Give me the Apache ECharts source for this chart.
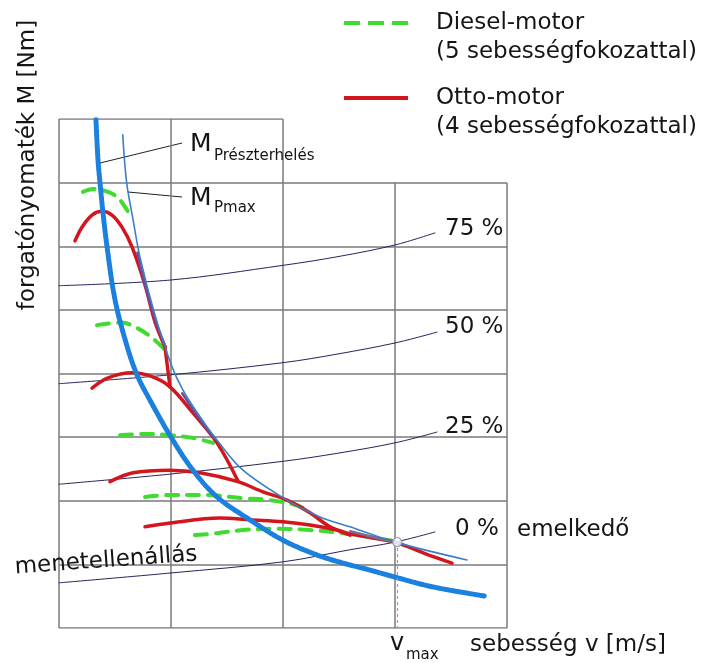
<!DOCTYPE html>
<html>
<head>
<meta charset="utf-8">
<script src="https://cdn.jsdelivr.net/npm/echarts@6/dist/echarts.min.js"></script>
<style>html,body{margin:0;padding:0;background:#fff;}#c{width:709px;height:663px;}</style>
</head>
<body>
<div id="c"></div>
<script>
// Grid (schematic, unitless): x 0..4 columns, y 0..8 rows
const gridColsX = [0, 1, 2, 3, 4];
const gridColsTop = [8, 8, 8, 7, 7];
const gridRowsY = [0, 1, 2, 3, 4, 5, 6, 7, 8];
const gridRowsRight = [4, 4, 4, 4, 4, 4, 4, 4, 2];

// Torque hyperbolas
const mPartial = [[0.33,7.99],[0.348,7.36],[0.366,7.0],[0.39,6.57],[0.429,5.99],[0.5,5.16],[0.604,4.45],[0.696,3.98],[0.8125,3.58],[1.0,3.0],[1.196,2.48],[1.411,2.06],[1.705,1.70],[2.0,1.38],[2.30,1.15],[2.536,1.02],[2.777,0.91],[3.0,0.80],[3.339,0.645],[3.80,0.503]];
const mPmax = [[0.569,7.75],[0.604,7.0],[0.661,6.42],[0.723,5.83],[0.857,4.92],[1.006,4.12],[1.107,3.74],[1.259,3.32],[1.408,2.96],[1.643,2.48],[2.036,2.01],[2.33,1.745],[2.598,1.59],[3.0,1.35],[3.643,1.07]];

// Driving resistance (slope) curves
const res75 = [[0,5.38],[1.0,5.47],[2.0,5.70],[2.5,5.84],[3.0,6.02],[3.357,6.21]];
const res50 = [[0,3.84],[1.0,3.98],[2.0,4.17],[2.5,4.31],[3.0,4.48],[3.375,4.65]];
const res25 = [[0,2.26],[1.0,2.42],[2.0,2.62],[2.5,2.75],[3.0,2.91],[3.375,3.08]];
const res0 = [[0,0.71],[1.0,0.865],[2.0,1.04],[2.598,1.23],[3.0,1.35],[3.357,1.51]];

// Otto engine, 4 gears
const otto1 = [[0.143,6.085],[0.205,6.30],[0.295,6.49],[0.384,6.55],[0.473,6.49],[0.5625,6.30],[0.652,5.99],[0.768,5.39],[0.857,4.81],[0.946,4.42]];
const otto1Drop = [[0.946,4.42],[0.991,3.79]];
const otto2 = [[0.295,3.77],[0.4375,3.93],[0.652,4.01],[0.830,3.95],[0.991,3.79],[1.196,3.38],[1.411,2.91],[1.598,2.31]];
const otto3 = [[0.455,2.30],[0.661,2.44],[0.991,2.48],[1.259,2.44],[1.598,2.30],[1.821,2.14],[2.036,2.01],[2.241,1.81],[2.42,1.59],[2.598,1.46]];
const otto4 = [[0.768,1.59],[0.991,1.65],[1.4375,1.73],[1.705,1.70],[2.0,1.67],[2.241,1.62],[2.482,1.54],[2.598,1.48],[2.80,1.415],[3.0,1.35],[3.268,1.17],[3.509,1.02]];

// Diesel engine, 5 gears
const diesel1 = [[0.214,6.855],[0.304,6.90],[0.4375,6.855],[0.527,6.76],[0.607,6.57],[0.643,6.45]];
const diesel2 = [[0.339,4.76],[0.5625,4.80],[0.679,4.73],[0.795,4.61],[0.92,4.42],[0.964,4.32]];
const diesel3 = [[0.545,3.03],[0.786,3.05],[0.991,3.03],[1.19,2.99],[1.375,2.91]];
const diesel4 = [[0.768,2.06],[0.991,2.09],[1.32,2.09],[1.643,2.04],[1.884,2.01],[2.125,1.93],[2.196,1.87]];
const diesel5 = [[1.214,1.46],[1.411,1.49],[1.643,1.54],[1.946,1.56],[2.241,1.54],[2.536,1.49],[2.777,1.43],[2.973,1.37]];

// Envelope segments where gear curves run along M_Pmax
const envelope1 = [[0.70,5.9],[0.77,5.38],[0.857,4.86],[0.946,4.44]];
const envelope2 = [[1.1,3.69],[1.25,3.30],[1.39,2.97]];
const envelope3 = [[2.6,1.52],[2.8,1.43],[3.0,1.35]];

// Maximum speed point
const vmaxPoint = [3.02, 1.35];

const FONT = '"DejaVu Sans", "Liberation Sans", sans-serif';

const gridData = [];
gridColsX.forEach((x, i) => gridData.push({coords: [[x, 0], [x, gridColsTop[i]]]}));
gridRowsY.forEach((y, i) => gridData.push({coords: [[0, y], [gridRowsRight[i], y]]}));

function curve(name, data, color, width, type, z, smooth) {
  return {
    name, type: 'line', data, z: z,
    smooth: smooth === undefined ? 0.35 : smooth,
    symbol: 'none', silent: true,
    lineStyle: {color, width, type: type || 'solid', cap: 'round', join: 'round'}
  };
}

const GREEN = '#3fdc2f', RED = '#d3161d', NAVY = '#24245e', THINBLUE = '#3c80c2', BLUE = '#1c80de', PURPLE = '#6a4c9c';
const dashG = [12, 9];

const series = [
  {type: 'lines', coordinateSystem: 'cartesian2d', polyline: false, silent: true, z: 1,
   data: gridData, lineStyle: {color: '#7a7a7a', width: 1.5, opacity: 1}},
  curve('75 %', res75, NAVY, 1, null, 2),
  curve('50 %', res50, NAVY, 1, null, 2),
  curve('25 %', res25, NAVY, 1, null, 2),
  curve('0 %', res0, NAVY, 1, null, 2),
  curve('Diesel 1', diesel1, GREEN, 4, dashG, 3),
  curve('Diesel 2', diesel2, GREEN, 4, dashG, 3),
  curve('Diesel 3', diesel3, GREEN, 4, dashG, 3),
  curve('Diesel 4', diesel4, GREEN, 4, dashG, 3),
  curve('Diesel 5', diesel5, GREEN, 4, dashG, 3),
  curve('Otto 1', otto1, RED, 3.5, null, 4),
  curve('Otto 1 drop', otto1Drop, RED, 3.5, null, 4, false),
  curve('Otto 2', otto2, RED, 3.5, null, 4),
  curve('Otto 3', otto3, RED, 3.5, null, 4),
  curve('Otto 4', otto4, RED, 3.5, null, 4),
  curve('env1', envelope1, PURPLE, 2.5, null, 5),
  curve('env2', envelope2, PURPLE, 2.5, null, 5),
  curve('env3', envelope3, '#7a6a9a', 2.5, null, 5),
  curve('M Pmax', mPmax, THINBLUE, 1.6, null, 6),
  curve('M részterhelés', mPartial, BLUE, 5, [3.2, 1.6], 7),
  {type: 'lines', coordinateSystem: 'cartesian2d', silent: true, z: 8,
   data: [{coords: [vmaxPoint, [vmaxPoint[0], 0]]}],
   lineStyle: {color: '#c47fc4', width: 1.2, type: [3, 3], opacity: 1}},
  {type: 'scatter', data: [vmaxPoint], z: 9, silent: true, symbolSize: 9,
   itemStyle: {color: '#ffffff', borderColor: '#8a9cb0', borderWidth: 1.5}}
];

function txt(x, y, text, size, opts) {
  return Object.assign({type: 'text', x, y, z: 100,
    style: {text, font: size + 'px ' + FONT, fill: '#151515',
      textAlign: 'left', textVerticalAlign: 'middle'}}, opts || {});
}

const graphic = [
  // legend
  {type: 'line', shape: {x1: 344, y1: 23, x2: 410, y2: 23}, style: {stroke: GREEN, lineWidth: 4, lineDash: [16, 8]}},
  {type: 'line', shape: {x1: 344, y1: 98, x2: 408, y2: 98}, style: {stroke: RED, lineWidth: 4}},
  txt(436, 23, 'Diesel-motor', 23),
  txt(436, 52, '(5 sebességfokozattal)', 23),
  txt(436, 98, 'Otto-motor', 23),
  txt(436, 127, '(4 sebességfokozattal)', 23),
  // axis titles
  {type: 'text', x: 28, y: 165, rotation: Math.PI / 2, z: 100,
   style: {text: 'forgatónyomaték M [Nm]', font: '23px ' + FONT, fill: '#151515', textAlign: 'center', textVerticalAlign: 'middle'}},
  txt(470, 645, 'sebesség v [m/s]', 23),
  txt(390, 644, 'v', 24),
  txt(406, 655, 'max', 15),
  // curve labels
  txt(445, 229, '75 %', 23),
  txt(445, 327, '50 %', 23),
  txt(445, 427, '25 %', 23),
  txt(455, 529, '0 %', 23),
  txt(517, 530, 'emelkedő', 23),
  {type: 'text', x: 106, y: 561, rotation: 0.072, z: 100,
   style: {text: 'menetellenállás', font: '23px ' + FONT, fill: '#151515', textAlign: 'center', textVerticalAlign: 'middle'}},
  // M labels with leaders
  {type: 'line', shape: {x1: 100, y1: 163, x2: 182, y2: 143}, style: {stroke: '#222', lineWidth: 1}},
  {type: 'line', shape: {x1: 128, y1: 192, x2: 182, y2: 197}, style: {stroke: '#222', lineWidth: 1}},
  txt(190, 144, 'M', 25),
  txt(214, 156, 'Prészterhelés', 15),
  txt(190, 198, 'M', 25),
  txt(214, 208, 'Pmax', 15)
];

const chart = echarts.init(document.getElementById('c'), null, {renderer: 'canvas'});
chart.setOption({
  animation: false,
  backgroundColor: '#ffffff',
  grid: {left: 59, top: 119, width: 448, height: 509, show: false},
  xAxis: {type: 'value', min: 0, max: 4, interval: 1, axisLine: {show: false}, axisTick: {show: false}, axisLabel: {show: false}, splitLine: {show: false}},
  yAxis: {type: 'value', min: 0, max: 8, interval: 1, axisLine: {show: false}, axisTick: {show: false}, axisLabel: {show: false}, splitLine: {show: false}},
  series,
  graphic
});
</script>
</body>
</html>
